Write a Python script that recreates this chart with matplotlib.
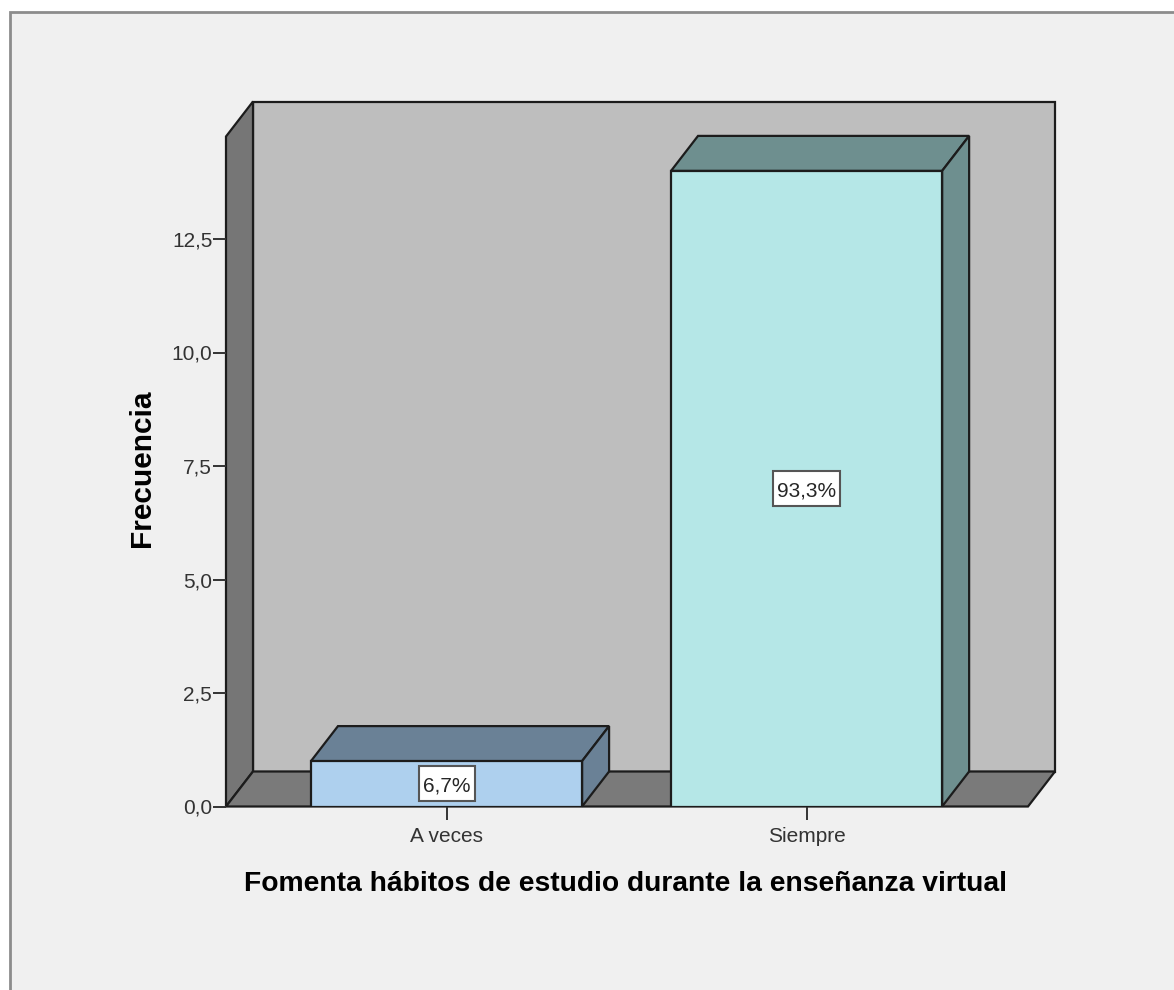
import matplotlib
matplotlib.use("Agg")
import matplotlib.pyplot as plt
from matplotlib.patches import Polygon, Rectangle

categories = ["A veces", "Siempre"]
counts = [1, 14]
pct_labels = ["6,7%", "93,3%"]
y_ticks = [0.0, 2.5, 5.0, 7.5, 10.0, 12.5]
front_colors = ["#aed0ee", "#b5e7e7"]
shade_colors = ["#6a8196", "#6e8f8f"]

W, H = 1174, 990
BAR_W = 0.753
# 3d offset of the box, in data units
DX = 27 / 360
DY = 35 / 45.4
EDGE = "#1c1c1c"
LW = 1.6

plt.rcParams["font.family"] = ["Liberation Sans", "DejaVu Sans"]

fig = plt.figure(figsize=(W / 100, H / 100), dpi=100, facecolor="white")
# outer frame runs off the right and bottom of the picture
fig.add_artist(Rectangle((10 / W, -0.1), 1.1, 0.1 + (H - 12) / H,
                         transform=fig.transFigure, facecolor="#f0f0f0",
                         edgecolor="#8c8c8c", linewidth=2, zorder=-1))

ax = fig.add_axes([226 / W, (H - 806.5) / H, 802 / W, 670 / H])
ax.set_facecolor("none")
for s in ax.spines.values():
    s.set_visible(False)

x0, x1 = -0.6125, 1.615
top = 670 / 45.4
ax.set_xlim(x0, x1)
ax.set_ylim(0, top)


def face(pts, color, z=1):
    ax.add_patch(Polygon(pts, closed=True, facecolor=color, edgecolor=EDGE,
                         linewidth=LW, clip_on=False, zorder=z, joinstyle="miter"))


# back wall, left wall, floor
face([(x0 + DX, DY), (x1 + DX, DY), (x1 + DX, top + DY), (x0 + DX, top + DY)], "#bebebe")
face([(x0, 0), (x0 + DX, DY), (x0 + DX, top + DY), (x0, top)], "#767676")
face([(x0, 0), (x1, 0), (x1 + DX, DY), (x0 + DX, DY)], "#7a7a7a")

for i, v in enumerate(counts):
    l, r = i - BAR_W / 2, i + BAR_W / 2
    ax.bar(i, v, BAR_W, color=front_colors[i], edgecolor=EDGE, linewidth=LW, zorder=3)
    face([(l, v), (r, v), (r + DX, v + DY), (l + DX, v + DY)], shade_colors[i], 2)
    face([(r, 0), (r + DX, DY), (r + DX, v + DY), (r, v)], shade_colors[i], 2)
    # white label box, wider for the longer label
    box_w = (11 * len(pct_labels[i]) + 12) / 360
    box_h = 35 / 45.4
    ax.add_patch(Rectangle((i - box_w / 2, v / 2 - box_h / 2), box_w, box_h, facecolor="white",
                           edgecolor="#555555", linewidth=1.5, zorder=4, clip_on=False))
    ax.annotate(pct_labels[i], (i, v / 2), xytext=(0, -1.5), textcoords="offset points",
                ha="center", va="center", fontsize=15, color="#262626", zorder=5)

ax.set_xticks(range(len(categories)))
ax.set_xticklabels(categories, fontsize=15, color="#333333")
ax.set_yticks(y_ticks)
ax.set_yticklabels([f"{t:.1f}".replace(".", ",") for t in y_ticks], fontsize=15, color="#333333")
ax.tick_params(axis="x", length=9.5, width=1.4, color="#333333", pad=5.5)
ax.tick_params(axis="y", length=9.4, width=1.4, color="#333333", pad=0.5)

ax.set_xlabel("Fomenta hábitos de estudio durante la enseñanza virtual", x=0.4985,
              fontsize=20.3, fontweight="bold", color="black", labelpad=18)
ax.set_ylabel("Frecuencia", y=0.505, fontsize=21.5, fontweight="bold", color="black", labelpad=11)

fig.savefig("out.png", dpi=100, facecolor=fig.get_facecolor())
